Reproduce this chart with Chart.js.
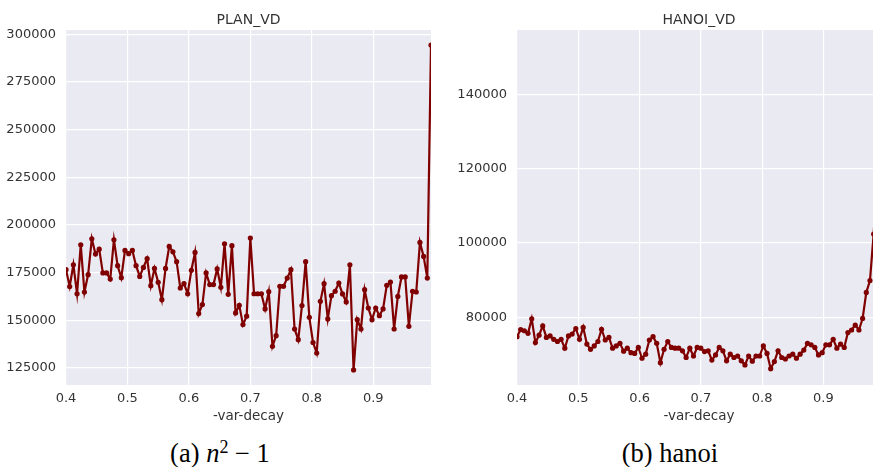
<!DOCTYPE html>
<html>
<head>
<meta charset="utf-8">
<title>var-decay</title>
<script src="https://cdn.jsdelivr.net/npm/chart.js@4/dist/chart.umd.min.js"></script>
<style>
  html, body { margin: 0; padding: 0; background: #fff; }
  #wrap { position: relative; width: 873px; height: 467px; overflow: hidden; }
  canvas { position: absolute; top: 0; }
  #chartPlan { left: 0; }
  #chartHanoi { left: 440px; }
  .caption {
    position: absolute; top: 439px; line-height: 28px;
    font-family: "Liberation Serif", "DejaVu Serif", serif; font-size: 26.5px;
    color: #000; text-align: center; white-space: nowrap;
  }
  .caption sup { font-size: 0.68em; line-height: 0; vertical-align: 0.5em; }
  #capA { left: 0; width: 440px; }
  #capB { left: 440px; width: 460px; }
</style>
</head>
<body>
<div id="wrap">
  <canvas id="chartPlan" width="440" height="430"></canvas>
  <canvas id="chartHanoi" width="450" height="430"></canvas>
  <div class="caption" id="capA">(a) <i>n</i><sup>2</sup> − 1</div>
  <div class="caption" id="capB">(b) hanoi</div>
</div>
<script>
/* =====================================
   DATA
===================================== */
const varDecay = [
  0.400, 0.406, 0.412, 0.418, 0.424, 0.430, 0.436, 0.442, 0.448, 0.454,
  0.460, 0.466, 0.472, 0.478, 0.484, 0.490, 0.496, 0.502, 0.508, 0.514,
  0.520, 0.526, 0.532, 0.538, 0.544, 0.550, 0.556, 0.562, 0.568, 0.574,
  0.580, 0.586, 0.592, 0.598, 0.604, 0.610, 0.616, 0.622, 0.628, 0.634,
  0.640, 0.646, 0.652, 0.658, 0.664, 0.670, 0.676, 0.682, 0.688, 0.694,
  0.700, 0.706, 0.712, 0.718, 0.724, 0.730, 0.736, 0.742, 0.748, 0.754,
  0.760, 0.766, 0.772, 0.778, 0.784, 0.790, 0.796, 0.802, 0.808, 0.814,
  0.820, 0.826, 0.832, 0.838, 0.844, 0.850, 0.856, 0.862, 0.868, 0.874,
  0.880, 0.886, 0.892, 0.898, 0.904, 0.910, 0.916, 0.922, 0.928, 0.934,
  0.940, 0.946, 0.952, 0.958, 0.964, 0.970, 0.976, 0.982, 0.988, 0.994
];

const planVd = [
  176500, 167700, 179100, 163900, 189600, 164800, 173900, 192700, 184700, 187300,
  174800, 174800, 171600, 192200, 178600, 172300, 186600, 184900, 186600, 178600,
  173000, 177700, 182300, 168100, 177200, 169900, 160800, 177200, 188700, 185900,
  180700, 166900, 169200, 163900, 176200, 185600, 153500, 158200, 174800, 168700,
  168700, 176900, 167300, 190100, 163600, 189100, 153800, 157800, 147700, 152100,
  193100, 163900, 163900, 163900, 155900, 165000, 136300, 141900, 167800, 167800,
  172100, 176500, 145400, 139800, 157700, 180700, 151500, 138300, 132800, 159900,
  169200, 150700, 162900, 165200, 169500, 163800, 159600, 179100, 123900, 150300,
  145400, 166000, 156400, 150300, 156400, 152400, 155900, 168300, 170000, 145400,
  162500, 172700, 172700, 146800, 165200, 164800, 190800, 183500, 172100, 294400
];

const hanoiVd = [
  74800, 76700, 76400, 75700, 79600, 73200, 75200, 77700, 74600, 75000,
  74100, 73500, 74100, 71700, 75000, 75500, 77000, 74100, 77300, 72800,
  71400, 72300, 73500, 76800, 73900, 74600, 71700, 72300, 73000, 70900,
  71700, 70500, 70300, 71900, 69000, 70100, 73900, 74800, 73000, 67800,
  71400, 73500, 71900, 71700, 71700, 71000, 69200, 71700, 69600, 71900,
  71700, 70800, 71000, 68500, 69900, 71900, 71000, 68300, 70100, 69200,
  69600, 68300, 67200, 69600, 68200, 69600, 69600, 72300, 70300, 66200,
  68100, 71000, 69200, 68800, 69600, 70100, 69000, 70100, 71200, 73000,
  72600, 71900, 69900, 70500, 72600, 72600, 74100, 71700, 72800, 71900,
  75900, 76600, 77900, 76600, 79700, 86700, 89900, 102400, 118000, 153000
];

const xTicks = [0.4, 0.5, 0.6, 0.7, 0.8, 0.9];
const planTicks = [125000, 150000, 175000, 200000, 225000, 250000, 275000, 300000];
const hanoiTicks = [80000, 100000, 120000, 140000];

/* =====================================
   STYLE
===================================== */
const lineColor = "#800000";
const textColor = "#333333";

Chart.defaults.font.family = "'DejaVu Sans', sans-serif";

// grey plot face behind the grid
const plotBackground = {
  id: "plotBackground",
  beforeDraw(chart) {
    const { ctx, chartArea: a } = chart;
    ctx.save();
    ctx.fillStyle = "#EAEAF2";
    ctx.fillRect(a.left, a.top, a.width, a.height);
    ctx.restore();
  }
};

/* =====================================
   PANEL
===================================== */
function drawPanel(canvasId, title, values, yTicks, yMin, yMax, yAxisWidth) {
  new Chart(document.getElementById(canvasId), {
    type: "line",
    data: {
      datasets: [{
        data: varDecay.map((x, i) => ({ x: x, y: values[i] })),
        borderColor: lineColor,
        backgroundColor: lineColor,
        borderWidth: 2.2,
        pointRadius: 2.6,
        pointHoverRadius: 2.6,
        pointBorderWidth: 0,
        tension: 0,
        clip: 0
      }]
    },
    options: {
      responsive: false,
      animation: false,
      events: [],
      layout: { padding: { left: 0, right: 9, top: 0, bottom: 0 } },
      plugins: {
        legend: { display: false },
        tooltip: { enabled: false },
        title: {
          display: true,
          text: title,
          fullSize: false,
          color: textColor,
          font: { size: 14, weight: "normal" },
          padding: { top: 11.5, bottom: 1.7 }
        }
      },
      scales: {
        x: {
          type: "linear",
          min: 0.4,
          max: 0.994,
          border: { display: false },
          grid: { color: "#ffffff", lineWidth: 1.2, drawTicks: false },
          ticks: {
            padding: 6,
            color: textColor,
            font: { size: 13 },
            callback: v => v.toFixed(1)
          },
          afterBuildTicks: s => { s.ticks = xTicks.map(v => ({ value: v })); },
          afterFit: s => { s.height = 45; },
          title: {
            display: true,
            text: "-var-decay",
            color: textColor,
            font: { size: 13.5 },
            padding: { top: 0, bottom: 5.2 }
          }
        },
        y: {
          type: "linear",
          min: yMin,
          max: yMax,
          border: { display: false },
          grid: { color: "#ffffff", lineWidth: 1.2, drawTicks: false },
          ticks: {
            padding: 10,
            color: textColor,
            font: { size: 13 },
            callback: v => String(v)
          },
          afterBuildTicks: s => { s.ticks = yTicks.map(v => ({ value: v })); },
          afterFit: s => { s.width = yAxisWidth; }
        }
      }
    },
    plugins: [plotBackground]
  });
}

drawPanel("chartPlan", "PLAN_VD", planVd, planTicks, 116000, 302300, 66);
drawPanel("chartHanoi", "HANOI_VD", hanoiVd, hanoiTicks, 61800, 157300, 77);
</script>
</body>
</html>
